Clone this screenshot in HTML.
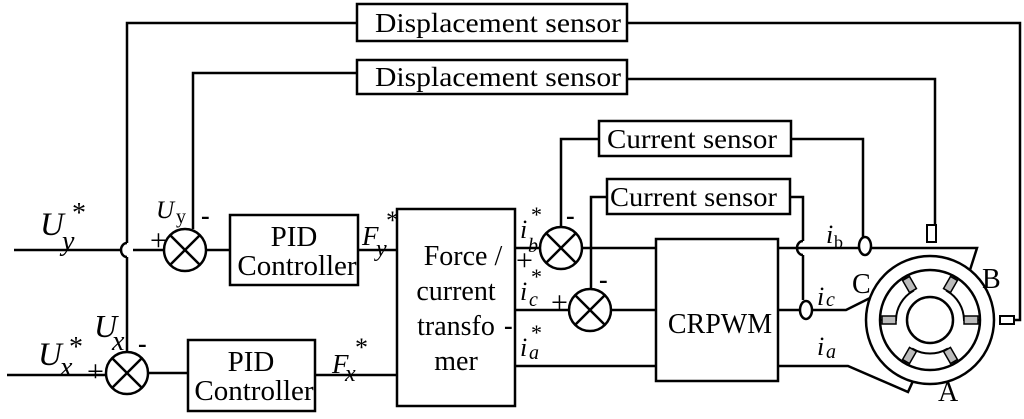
<!DOCTYPE html>
<html><head><meta charset="utf-8"><style>
html,body{margin:0;padding:0;background:#fff}
svg{display:block}
text{font-family:"Liberation Serif",serif;fill:#000}
</style></head><body>
<svg width="1024" height="419" viewBox="0 0 1024 419" xmlns="http://www.w3.org/2000/svg">
<g fill="none" stroke="#000" stroke-width="2.5">
<rect x="357" y="4" width="270" height="37"/>
<rect x="357" y="60" width="270" height="34"/>
<rect x="599" y="121" width="192" height="35"/>
<rect x="607" y="179" width="183" height="35"/>
<polyline points="357,23 127,23 127,243"/>
<path d="M127,243 a6,7 0 0 0 0,14"/>
<polyline points="127,257 127,352"/>
<polyline points="627,23 1020,23 1020,320 1014,320"/>
<rect x="1000" y="316" width="14" height="8" stroke-width="2"/>
<polyline points="357,73 193,73 193,229"/>
<polyline points="627,79 935,79 935,225"/>
<rect x="927" y="225" width="9" height="17" stroke-width="2"/>
<polyline points="599,139 561,139 561,227"/>
<polyline points="791,139 863,139 863,238"/>
<polyline points="607,197 591,197 591,289"/>
<polyline points="790,197 803,197 803,241"/>
<path d="M803,241 a6,7 0 0 0 0,14"/>
<polyline points="803,255 803,300"/>
<polyline points="14,250 121,250"/>
<polyline points="133,250 164,250"/>
<polyline points="7,375 106,375"/>
<circle cx="185" cy="250" r="21"/>
<path d="M170,235 L200,265 M200,235 L170,265"/>
<circle cx="127" cy="373" r="21"/>
<path d="M112,358 L142,388 M142,358 L112,388"/>
<circle cx="561" cy="248" r="21"/>
<path d="M546,233 L576,263 M576,233 L546,263"/>
<circle cx="590" cy="310" r="21"/>
<path d="M575,295 L605,325 M605,295 L575,325"/>
<rect x="230" y="215" width="128" height="70"/>
<rect x="188" y="340" width="127" height="71"/>
<polyline points="206,250 230,250"/>
<polyline points="148,373 188,373"/>
<polyline points="358,250 397,250"/>
<polyline points="315,375 397,375"/>
<rect x="397" y="209" width="118" height="197"/>
<polyline points="515,248 540,248"/>
<polyline points="515,310 569,310"/>
<polyline points="515,366 656,366"/>
<polyline points="582,248 656,248"/>
<polyline points="611,310 656,310"/>
<rect x="656" y="239" width="122" height="142"/>
<polyline points="778,248 977,248 970,270"/>
<polyline points="778,310 846,310 872,297"/>
<polyline points="778,366 848,366 908,392 913,381"/>
<ellipse cx="865" cy="246" rx="6" ry="9" fill="#fff"/>
<ellipse cx="806" cy="310" rx="6" ry="9" fill="#fff"/>
<circle cx="930" cy="320" r="64" fill="#fff"/>
<circle cx="930" cy="320" r="50"/>
<circle cx="930" cy="320" r="23"/>
</g>
<g fill="none" stroke="#000" stroke-width="2">
<path d="M905,277 L913,291 A34,34 0 0 0 896,320 L880,320"/>
<path d="M955,277 L947,291 A34,34 0 0 1 964,320 L980,320"/>
<path d="M905,363 L913,349 A34,34 0 0 0 947,349 L955,363"/>
</g>
<g fill="#bbb" stroke="#000" stroke-width="1.5">
<rect x="964" y="316" width="14" height="8" transform="rotate(0 930 320)"/>
<rect x="964" y="316" width="14" height="8" transform="rotate(-60 930 320)"/>
<rect x="964" y="316" width="14" height="8" transform="rotate(-120 930 320)"/>
<rect x="964" y="316" width="14" height="8" transform="rotate(180 930 320)"/>
<rect x="964" y="316" width="14" height="8" transform="rotate(120 930 320)"/>
<rect x="964" y="316" width="14" height="8" transform="rotate(60 930 320)"/>
</g>
<g font-size="27">
<text x="375" y="32" textLength="246" lengthAdjust="spacingAndGlyphs">Displacement sensor</text>
<text x="375" y="86" textLength="246" lengthAdjust="spacingAndGlyphs">Displacement sensor</text>
<text x="607" y="148" textLength="170" lengthAdjust="spacingAndGlyphs">Current sensor</text>
<text x="610" y="206" textLength="167" lengthAdjust="spacingAndGlyphs">Current sensor</text>
<text x="294" y="246" text-anchor="middle" font-size="29">PID</text>
<text x="297" y="275" text-anchor="middle" font-size="29">Controller</text>
<text x="251" y="371" text-anchor="middle" font-size="29">PID</text>
<text x="254" y="400" text-anchor="middle" font-size="29">Controller</text>
<text x="463" y="265" text-anchor="middle" font-size="28">Force  /</text>
<text x="456" y="300" text-anchor="middle" font-size="28">current</text>
<text x="456" y="335" text-anchor="middle" font-size="28">transfo</text>
<text x="456" y="370" text-anchor="middle" font-size="28">mer</text>
<text x="720" y="333" text-anchor="middle" font-size="28">CRPWM</text>
<text x="852" y="293" font-size="28">C</text>
<text x="982" y="288" font-size="28">B</text>
<text x="938" y="401" font-size="28">A</text>
</g>
<g font-style="italic">
<text x="40" y="235" font-size="33">U</text><text x="62" y="250" font-size="28">y</text><text x="72" y="222" font-size="28" font-style="normal">*</text>
<text x="38" y="365" font-size="33">U</text><text x="60" y="376" font-size="28">x</text><text x="69" y="356" font-size="28" font-style="normal">*</text>
<text x="94" y="337" font-size="32">U</text><text x="112" y="350" font-size="28">x</text>
<text x="156" y="218" font-size="25">U</text><text x="176" y="223" font-size="20" font-style="normal">y</text>
<text x="362" y="245" font-size="27">F</text><text x="376" y="256" font-size="24">y</text><text x="386" y="229" font-size="26" font-style="normal">*</text>
<text x="332" y="373" font-size="27">F</text><text x="345" y="381" font-size="24">x</text><text x="355" y="356" font-size="26" font-style="normal">*</text>
<text x="520" y="238" font-size="26">i</text><text x="528" y="252" font-size="20">b</text><text x="531" y="222" font-size="22" font-style="normal">*</text>
<text x="520" y="300" font-size="26">i</text><text x="529" y="306" font-size="20">c</text><text x="531" y="284" font-size="22" font-style="normal">*</text>
<text x="520" y="356" font-size="26">i</text><text x="529" y="359" font-size="20">a</text><text x="531" y="340" font-size="22" font-style="normal">*</text>
<text x="826" y="243" font-size="26">i</text><text x="834" y="248" font-size="18" font-style="normal">b</text>
<text x="817" y="305" font-size="26">i</text><text x="826" y="306" font-size="20">c</text>
<text x="817" y="355" font-size="26">i</text><text x="826" y="358" font-size="20">a</text>
</g>
<g font-size="30">
<text x="150" y="250">+</text>
<text x="87" y="381">+</text>
<text x="516" y="270">+</text>
<text x="551" y="312">+</text>
</g>
<g font-size="26" font-weight="bold" font-family="Liberation Sans">
<text x="201" y="224">-</text>
<text x="138" y="352">-</text>
<text x="566" y="224">-</text>
<text x="599" y="288">-</text>
<text x="504" y="334">-</text>
</g>
</svg>
</body></html>
